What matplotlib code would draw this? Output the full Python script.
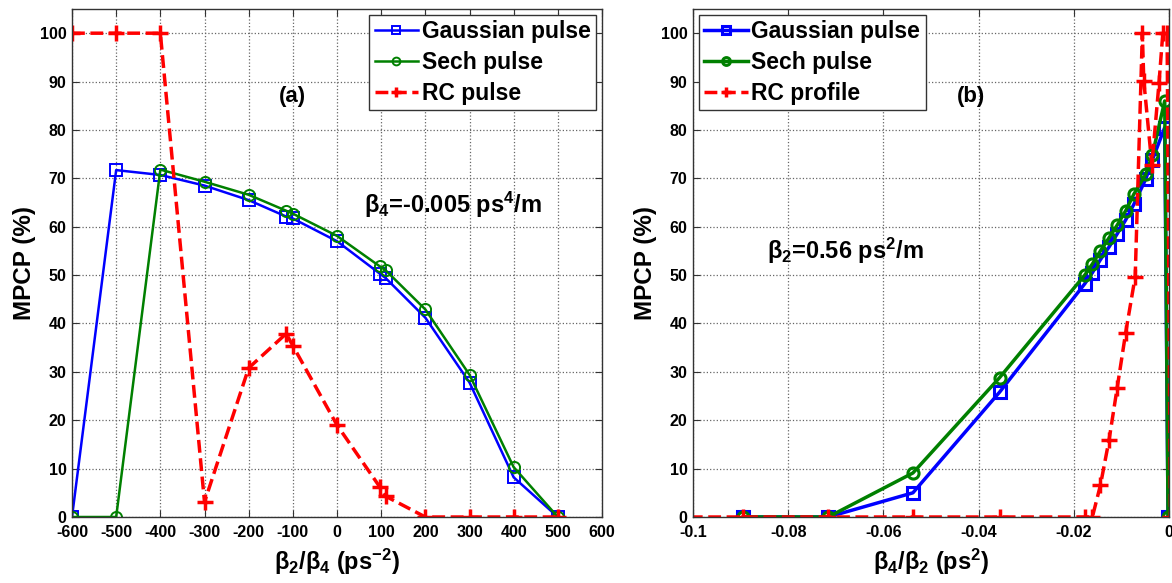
import numpy as np
import matplotlib.pyplot as plt

plt.rcParams['font.family'] = ['Liberation Sans', 'DejaVu Sans']
plt.rcParams['font.weight'] = 'bold'
plt.rcParams['axes.unicode_minus'] = False
plt.rcParams['mathtext.fontset'] = 'custom'
plt.rcParams['mathtext.rm'] = 'Liberation Sans:bold'
plt.rcParams['mathtext.it'] = 'Liberation Sans:bold'
plt.rcParams['mathtext.bf'] = 'Liberation Sans:bold'

# ---- panel (a): MPCP vs beta2/beta4 ----
a_x = [-600, -500, -400, -300, -200, -115, -100, 0, 97, 110, 200, 300, 400, 500]
a_gauss = [0, 71.7, 70.7, 68.5, 65.5, 62.1, 61.7, 57.0, 50.3, 49.4, 41.2, 27.8, 8.2, 0]
a_sech = [0, 0, 71.8, 69.3, 66.6, 63.3, 62.7, 58.1, 51.8, 51.0, 42.9, 29.4, 10.3, 0]
a_rc = [100, 100, 100, 3.1, 30.8, 37.9, 35.4, 19.0, 6.2, 4.3, 0, 0, 0, 0]
a_ticks = [-600, -500, -400, -300, -200, -100, 0, 100, 200, 300, 400, 500, 600]

# ---- panel (b): MPCP vs beta4/beta2 ----
b_x = [-0.0894, -0.0716, -0.0538, -0.0356, -0.0177, -0.0161, -0.0144, -0.0126,
       -0.0109, -0.0091, -0.0074, -0.0049, -0.0035, -0.0009, -0.0002]
b_gauss = [0, 0, 5.0, 25.8, 48.2, 50.5, 53.2, 55.8, 58.5, 61.4, 64.6, 69.8, 73.8, 80.5, 0]
b_sech = [0, 0, 9.1, 28.8, 50.0, 52.3, 55.0, 57.7, 60.3, 63.3, 66.7, 70.8, 74.8, 86.0, 0]
b_x_rc = [-0.12, -0.0894, -0.0716, -0.0538, -0.0356, -0.0177, -0.0161, -0.0144, -0.0126,
          -0.0109, -0.0091, -0.0071, -0.0056, -0.0053, -0.0036, -0.0021, -0.0013, -0.0004, 0.0003]
b_rc = [0, 0, 0, 0, 0, 0, 0, 6.6, 15.9, 26.6, 38.1, 49.7, 100, 90.2, 72.8, 89.7, 100, 100, 0]
b_ticks = [-0.1, -0.08, -0.06, -0.04, -0.02, 0]
b_ticklabels = ['-0.1', '-0.08', '-0.06', '-0.04', '-0.02', '0']

y_ticks = np.arange(0, 101, 10)

W, H = 1172, 583
fig = plt.figure(figsize=(W / 100, H / 100), dpi=100)
ax1 = fig.add_axes([72 / W, (H - 517) / H, 530 / W, 508 / H])
ax2 = fig.add_axes([693 / W, (H - 517) / H, 476 / W, 508 / H])

blue, green, red = (0, 0, 1), (0, 0.5, 0), (1, 0, 0)
leg_kw = dict(fontsize=16.5, handlelength=1.9, handletextpad=0.15, borderpad=0.25,
              labelspacing=0.33, borderaxespad=0.25, fancybox=False, framealpha=1,
              edgecolor='#333333', markerscale=0.7)


def style(ax):
    ax.set_ylim(0, 105)
    ax.set_yticks(y_ticks)
    ax.grid(True, linestyle=':', color='#666666', linewidth=0.9)
    ax.tick_params(direction='in', top=True, right=True, length=5,
                   labelsize=11.5, color='#333333')
    ax.tick_params(axis='x', pad=6)
    ax.tick_params(axis='y', pad=4)
    for lab in ax.get_xticklabels() + ax.get_yticklabels():
        lab.set_fontweight('bold')
    for s in ax.spines.values():
        s.set_color('#333333')
        s.set_linewidth(1.0)
    ax.set_ylabel('MPCP (%)', fontsize=17.5, fontweight='bold', labelpad=3)


# panel (a)
ax1.plot(a_x, a_gauss, '-s', color=blue, lw=1.8, ms=8, mfc='none', mew=1.4,
         label='Gaussian pulse')
ax1.plot(a_x, a_sech, '-o', color=green, lw=1.8, ms=8, mfc='none', mew=1.4,
         label='Sech pulse')
ax1.plot(a_x, a_rc, '--+', color=red, lw=2.5, ms=11, mew=2.5, label='RC pulse')
ax1.set_xlim(-600, 600)
ax1.set_xticks(a_ticks)
style(ax1)
ax1.set_xlabel('β$_2$/β$_4$ (ps$^{-2}$)', fontsize=17, fontweight='bold', labelpad=5)
ax1.text(-100, 87, '(a)', fontsize=16, fontweight='bold', ha='center', va='center')
ax1.text(62, 64.5, 'β$_4$=-0.005 ps$^4$/m', fontsize=17, fontweight='bold',
         ha='left', va='center')
leg1 = ax1.legend(loc='upper right', **leg_kw)
leg1.get_frame().set_linewidth(1.0)

# panel (b)
ax2.plot(b_x, b_gauss, '-s', color=blue, lw=2.5, ms=8, mfc='none', mew=2.2,
         label='Gaussian pulse')
ax2.plot(b_x, b_sech, '-o', color=green, lw=2.5, ms=8, mfc='none', mew=2.2,
         label='Sech pulse')
ax2.plot(b_x_rc, b_rc, '--+', color=red, lw=2.5, ms=11, mew=2.5, label='RC profile')
ax2.set_xlim(-0.1, 0)
ax2.set_xticks(b_ticks)
ax2.set_xticklabels(b_ticklabels)
style(ax2)
ax2.set_xlabel('β$_4$/β$_2$ (ps$^2$)', fontsize=17, fontweight='bold', labelpad=5)
ax2.text(-0.0415, 87, '(b)', fontsize=16, fontweight='bold', ha='center', va='center')
ax2.text(-0.0845, 55, 'β$_2$=0.56 ps$^2$/m', fontsize=17, fontweight='bold',
         ha='left', va='center')
leg2 = ax2.legend(loc='upper left', **leg_kw)
leg2.get_frame().set_linewidth(1.0)

fig.savefig('out.png', dpi=100)
